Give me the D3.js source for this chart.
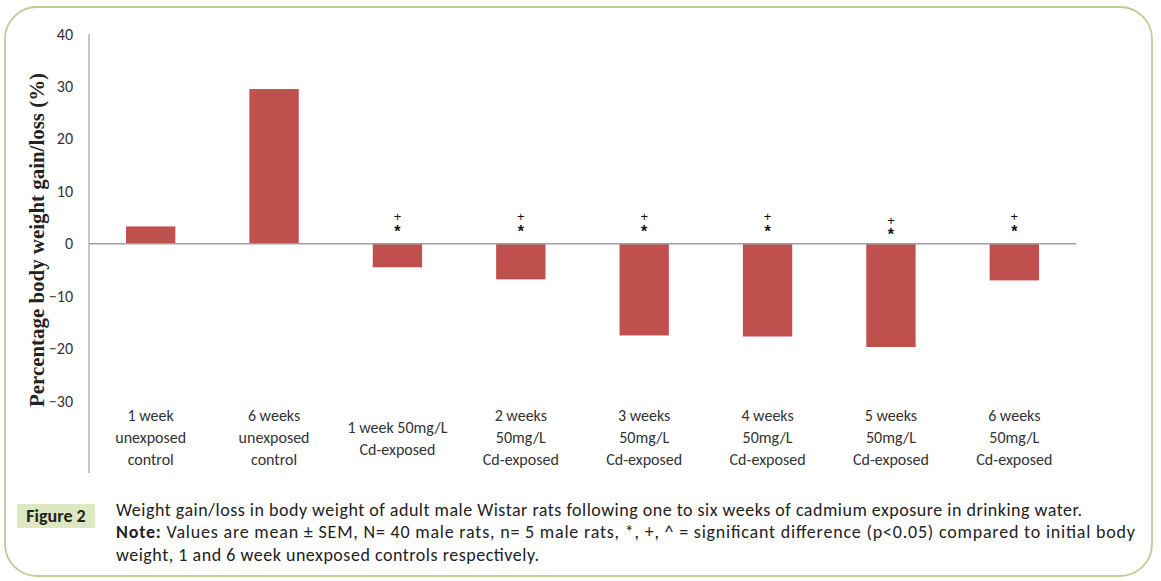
<!DOCTYPE html>
<html lang="en">
<head>
<meta charset="utf-8">
<title>Weight gain/loss</title>
<script src="https://cdn.jsdelivr.net/npm/d3@7/dist/d3.min.js"></script>
<style>
body { margin: 0; background: #fff; }
.axis text { font-family: Carlito, "Open Sans", sans-serif; font-size: 16px; fill: #333; }
.cat { font-family: Carlito, "Open Sans", sans-serif; font-size: 16px; fill: #333; }
.cap { font-family: Carlito, "Open Sans", sans-serif; font-size: 18px; fill: #222; }
</style>
</head>
<body>
<script>
var w = 1161, h = 581;

var categories = [
  ["1 week", "unexposed", "control"],
  ["6 weeks", "unexposed", "control"],
  ["1 week 50mg/L", "Cd-exposed"],
  ["2 weeks", "50mg/L", "Cd-exposed"],
  ["3 weeks", "50mg/L", "Cd-exposed"],
  ["4 weeks", "50mg/L", "Cd-exposed"],
  ["5 weeks", "50mg/L", "Cd-exposed"],
  ["6 weeks", "50mg/L", "Cd-exposed"]
];
var values = [3.3, 29.5, -4.5, -6.8, -17.5, -17.7, -19.7, -7.0];
var marks = ["", "", "+*", "+*", "+*", "+*", "+*", "+*"];
var yTicks = [-30, -20, -10, 0, 10, 20, 30, 40];

var svg = d3.select("body").append("svg")
    .attr("width", w)
    .attr("height", h);

// frame
svg.append("rect")
    .attr("x", 5).attr("y", 7)
    .attr("width", 1147).attr("height", 569)
    .attr("rx", 32).attr("ry", 32)
    .attr("fill", "none")
    .attr("stroke", "#b9cf94")
    .attr("stroke-width", 1.8);

var x = d3.scaleBand()
    .domain(d3.range(categories.length))
    .range([89, 1076])
    .paddingInner(0.6)
    .paddingOuter(0.3);

var y = d3.scaleLinear()
    .domain([-30, 40])
    .range([401, 34]);

// bars
svg.selectAll("rect.bar")
    .data(values)
    .enter()
    .append("rect")
    .attr("class", "bar")
    .attr("x", function(d, i) { return x(i); })
    .attr("width", x.bandwidth())
    .attr("y", function(d) { return d > 0 ? y(d) : y(0); })
    .attr("height", function(d) { return Math.abs(y(d) - y(0)); })
    .attr("fill", "#c0504d");

// zero line
svg.append("line")
    .attr("x1", 89).attr("x2", 1076)
    .attr("y1", y(0)).attr("y2", y(0))
    .attr("stroke", "#a0a0a0")
    .attr("stroke-width", 1.5);

// y axis
var yAxis = d3.axisLeft(y).tickValues(yTicks).tickSize(0).tickPadding(16);
var gy = svg.append("g")
    .attr("class", "axis")
    .attr("transform", "translate(89,0)")
    .call(yAxis);
gy.select(".domain").remove();
svg.append("line")
    .attr("x1", 89).attr("x2", 89)
    .attr("y1", y(40)).attr("y2", 473)
    .attr("stroke", "#a0a0a0")
    .attr("stroke-width", 1.2);

// significance markers
var sigIdx = d3.range(marks.length).filter(function(i) { return marks[i] !== ""; });
var sig = svg.selectAll("g.sig")
    .data(sigIdx)
    .enter()
    .append("g")
    .attr("class", "sig")
    .attr("transform", function(i) {
      return "translate(" + (x(i) + x.bandwidth() / 2) + ",0)";
    });
sig.append("text")
    .attr("y", function(i) { return i === 6 ? 225 : 221; })
    .attr("text-anchor", "middle")
    .attr("font-family", "Liberation Sans, sans-serif")
    .attr("font-size", "13px")
    .attr("fill", "#111")
    .text("+");
sig.append("text")
    .attr("y", function(i) { return i === 6 ? 240 : 237; })
    .attr("text-anchor", "middle")
    .attr("font-family", "Liberation Sans, sans-serif")
    .attr("font-weight", "bold")
    .attr("font-size", "16px")
    .attr("fill", "#111")
    .text("*");

// category labels
svg.selectAll("text.cat")
    .data(categories)
    .enter()
    .append("text")
    .attr("class", "cat")
    .attr("text-anchor", "middle")
    .attr("x", function(d, i) { return x(i) + x.bandwidth() / 2; })
    .attr("y", function(d) { return d.length === 3 ? 421 : 433; })
    .selectAll("tspan")
    .data(function(d) { return d; })
    .enter()
    .append("tspan")
    .attr("x", function() { return d3.select(this.parentNode).attr("x"); })
    .attr("dy", function(d, i) { return i === 0 ? 0 : 22; })
    .text(function(d) { return d; });

// y axis title
svg.append("text")
    .attr("transform", "translate(44,240) rotate(-90)")
    .attr("text-anchor", "middle")
    .attr("font-family", "Liberation Serif, serif")
    .attr("font-weight", "bold")
    .attr("font-size", "20px")
    .attr("fill", "#222")
    .attr("textLength", 334)
    .attr("lengthAdjust", "spacingAndGlyphs")
    .text("Percentage body weight gain/loss (%)");

// caption
svg.append("rect")
    .attr("x", 17).attr("y", 504)
    .attr("width", 78).attr("height", 24)
    .attr("fill", "#dde8c3");
svg.append("text")
    .attr("class", "cap")
    .attr("x", 56).attr("y", 522)
    .attr("text-anchor", "middle")
    .attr("font-weight", "bold")
    .text("Figure 2");

svg.append("text")
    .attr("class", "cap")
    .attr("x", 116).attr("y", 516)
    .attr("textLength", 966)
    .attr("lengthAdjust", "spacing")
    .text("Weight gain/loss in body weight of adult male Wistar rats following one to six weeks of cadmium exposure in drinking water.");

var line2 = svg.append("text")
    .attr("class", "cap")
    .attr("x", 116).attr("y", 538)
    .attr("textLength", 1019)
    .attr("lengthAdjust", "spacing");
line2.append("tspan").attr("font-weight", "bold").text("Note:");
line2.append("tspan").text(" Values are mean \u00b1 SEM, N= 40 male rats, n= 5 male rats, *, +, ^ = significant difference (p<0.05) compared to initial body");

svg.append("text")
    .attr("class", "cap")
    .attr("x", 116).attr("y", 561)
    .attr("textLength", 423)
    .attr("lengthAdjust", "spacing")
    .text("weight, 1 and 6 week unexposed controls respectively.");
</script>
</body>
</html>
